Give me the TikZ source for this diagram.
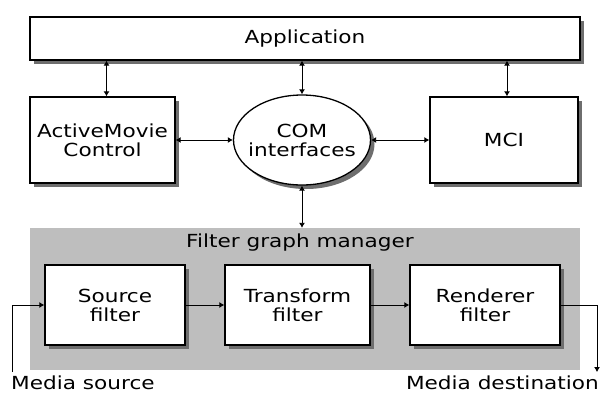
\documentclass[tikz,border=0pt]{standalone}
\usepackage{fontspec}
\setmainfont{DejaVu Sans}[FakeStretch=1.2]
\usetikzlibrary{arrows.meta,shapes.geometric}
\definecolor{shadowc}{RGB}{110,110,110}
\definecolor{panelc}{RGB}{190,190,190}
\begin{document}
\begin{tikzpicture}[x=1pt,y=-1pt,
  every node/.style={font=\fontsize{18}{19}\selectfont},
  box/.style={draw,line width=1.3pt,fill=white,align=center,inner sep=0pt},
  conn/.style={line width=0.9pt,{Latex[length=5pt,width=6pt]}-{Latex[length=5pt,width=6pt]}},
  flow/.style={line width=0.9pt,-{Latex[length=5pt,width=6pt]}}]
\useasboundingbox (0,0) rectangle (601,397);
% panel
\fill[panelc] (30,228) rectangle (580,370);
\node[inner sep=0pt,minimum width=550pt,minimum height=142pt] (panel) at (305,299) {};
\node (fgmlabel) at (300,243) {Filter graph manager};
% shadows (drawn first, beneath the boxes)
\fill[shadowc] (34,21) rectangle (584,64);
\fill[shadowc] (34,101) rectangle (179,187);
\fill[shadowc] (434,101) rectangle (582,187);
\fill[shadowc] (306,144) ellipse [x radius=68.5, y radius=45];
\fill[shadowc] (49,269) rectangle (189,349);
\fill[shadowc] (229,269) rectangle (374,349);
\fill[shadowc] (414,269) rectangle (564,349);
% top
\node[box,minimum width=550pt,minimum height=43pt] (app) at (305,38.5) {Application};
\node[box,minimum width=145pt,minimum height=86pt] (amc) at (102.5,140) {ActiveMovie\\Control};
\node[box,ellipse,inner xsep=-6pt,minimum width=137pt,minimum height=90pt] (com) at (302,140) {COM\\interfaces};
\node[box,minimum width=148pt,minimum height=86pt] (mci) at (504,140) {MCI};
% filters
\node[box,minimum width=140pt,minimum height=80pt] (src) at (115,305) {Source\\filter};
\node[box,minimum width=145pt,minimum height=80pt] (trf) at (297.5,305) {Transform\\filter};
\node[box,minimum width=150pt,minimum height=80pt] (rnd) at (485,305) {Renderer\\filter};
% connectors
\draw[conn] ([xshift=4pt]amc.north |- app.south) -- ([xshift=4pt]amc.north);
\draw[conn] (com.north |- app.south) -- (com.north);
\draw[conn] ([xshift=3pt]mci.north |- app.south) -- ([xshift=3pt]mci.north);
\draw[conn] (amc.east) -- (com.west);
\draw[conn] (com.east) -- (mci.west);
\draw[conn] (com.south) -- (com.south |- panel.north);
\draw[flow] (src.east) -- (trf.west);
\draw[flow] (trf.east) -- (rnd.west);
\coordinate (ms) at (12,372);
\coordinate (md) at (597,372);
\draw[flow] (ms) |- (src.west);
\draw[flow] (rnd.east) -| (md);
\node[anchor=base west,inner sep=0pt] (mslabel) at (11,389) {Media source};
\node[anchor=base east,inner sep=0pt] (mdlabel) at (599,389) {Media destination};
\end{tikzpicture}
\end{document}
